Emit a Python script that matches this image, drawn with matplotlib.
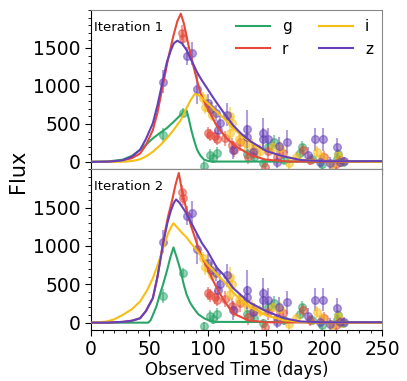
import numpy as np
import matplotlib
matplotlib.use('Agg')
import matplotlib.pyplot as plt
from matplotlib.ticker import MultipleLocator

# observed photometry (day, flux, error) per band
g_t = [62, 79, 97, 102, 105, 108, 134, 140, 148, 152, 157, 166, 179, 181, 190, 198, 211, 212, 216]
g_f = [350, 650, -50, 90, 50, 115, 110, 60, -10, 200, 260, 30, 115, 200, 40, -30, 40, 100, 0]
g_e = [90, 60, 60, 80, 70, 80, 70, 60, 60, 80, 90, 60, 70, 80, 60, 60, 60, 70, 50]

r_t = [78, 79, 100, 102, 106, 108, 115, 121, 123, 128, 135, 140, 149, 152, 160, 165, 182, 188, 200, 210, 214]
r_f = [1700, 1630, 380, 355, 335, 300, 310, 220, 160, 260, 70, 150, -60, 140, 60, 120, 160, 30, 60, -30, 20]
r_e = [100, 100, 80, 80, 90, 80, 100, 100, 90, 120, 100, 100, 80, 100, 90, 80, 80, 70, 80, 70, 60]

i_t = [96, 98, 101, 104, 119, 121, 119, 127, 132, 138, 145, 156, 162, 170, 176, 194, 198, 207, 212, 215]
i_f = [840, 725, 705, 620, 600, 510, 377, 300, 250, 200, 150, 200, 180, -20, 60, 136, 60, -30, 90, 0]
i_e = [80, 100, 90, 80, 120, 100, 90, 90, 100, 100, 80, 90, 90, 70, 70, 80, 70, 60, 70, 60]

z_t = [62, 82, 87, 91, 100, 103, 107, 109, 111, 117, 122, 134, 134, 139, 148, 148, 152, 160,
       161, 168, 186, 192, 197, 199, 205, 211, 214, 217]
z_f = [1055, 1395, 1430, 960, 775, 690, 645, 420, 510, 620, 160, 430, 330, 135, 380, 300, 300, 5,
       210, 265, 90, 300, 5, 300, -20, 195, 5, 10]
z_e = [150, 120, 150, 200, 120, 100, 100, 120, 100, 150, 120, 250, 150, 100, 200, 150, 150, 80,
       120, 150, 100, 150, 80, 150, 80, 120, 70, 60]

# model curves, iteration 1
m1_g_t = [0, 15, 27, 35, 42, 48, 53, 59, 65, 71, 77, 80, 82, 84, 86, 88.5, 91, 94, 97, 101, 105, 250]
m1_g_f = [3, 8, 30, 80, 160, 240, 310, 380, 445, 530, 620, 660, 675, 560, 420, 280, 160, 80, 30, 10, 5, 5]
m1_r_t = [0, 15, 27, 35, 42, 47, 53, 57, 62, 66, 70.5, 74, 77, 79.5, 82, 85, 88, 91, 94, 100, 108,
          117, 125, 137, 150, 170, 250]
m1_r_f = [0, 3, 17, 50, 110, 220, 420, 650, 1040, 1350, 1650, 1850, 1950, 1830, 1650, 1440, 1250, 1070,
          900, 710, 470, 300, 200, 90, 30, 5, 0]
m1_i_t = [0, 20, 30, 36, 42, 48, 53, 59, 65, 71, 77, 81, 85.5, 89, 91.5, 94, 100, 107, 114, 122, 130,
          137, 151, 166, 180, 200, 250]
m1_i_f = [0, 2, 5, 15, 35, 80, 135, 215, 310, 425, 550, 680, 815, 895, 885, 860, 775, 670, 575, 440,
          340, 260, 140, 70, 30, 10, 0]
m1_z_t = [0, 15, 27, 35, 42, 47, 53, 57, 62, 65, 68.5, 71, 74, 78, 82, 86, 91, 95, 100, 104, 108, 114,
          122, 129, 137, 151, 166, 180, 200, 250]
m1_z_f = [0, 4, 20, 70, 160, 300, 510, 750, 1100, 1310, 1470, 1560, 1595, 1560, 1470, 1340, 1180, 1075,
          960, 865, 775, 645, 480, 370, 270, 140, 70, 25, 10, 10]

# iteration 2
m2_g_t = [0, 46, 49, 51, 53, 56, 59, 62, 65, 68, 70.7, 73.5, 77, 79.5, 82, 85, 88, 92, 97, 102, 108, 250]
m2_g_f = [0, 0, 0, 30, 100, 210, 365, 510, 670, 850, 980, 850, 670, 500, 365, 260, 190, 110, 57, 25, 10, 5]
m2_r_t = [0, 15, 27, 35, 42, 47, 53, 57, 62, 66, 69.5, 72.5, 75.3, 78, 82, 86, 91, 95, 100, 104, 108,
          114, 122, 135, 150, 250]
m2_r_f = [0, 2, 10, 25, 57, 150, 320, 600, 1065, 1380, 1590, 1800, 1950, 1720, 1460, 1250, 1025, 860,
          715, 570, 450, 290, 120, 30, 5, 0]
m2_i_t = [0, 7, 13.5, 20, 27, 35, 42, 48, 53, 58, 62, 66, 68.5, 70.7, 74, 78, 82, 86, 91, 100, 108,
          114, 122, 130, 137, 151, 166, 185, 250]
m2_i_f = [0, 6, 15, 45, 100, 175, 275, 420, 580, 790, 980, 1160, 1240, 1295, 1240, 1170, 1110, 1030,
          935, 760, 630, 540, 390, 280, 200, 90, 30, 5, 0]
m2_z_t = [0, 15, 27, 35, 42, 47, 53, 57, 62, 65.5, 68.5, 71, 73, 76, 82, 86, 91, 95, 100, 108, 114, 122,
          130, 137, 151, 166, 180, 200, 250]
m2_z_f = [0, 2, 10, 25, 57, 150, 320, 600, 1045, 1300, 1460, 1560, 1605, 1560, 1420, 1300, 1155, 1040,
          930, 715, 620, 450, 340, 255, 145, 57, 15, 5, 5]

bands = ['g', 'r', 'i', 'z']
colors = {'g': '#2aa568', 'r': '#e5493a', 'i': '#f7be16', 'z': '#6640b8'}
obs = {'g': (g_t, g_f, g_e), 'r': (r_t, r_f, r_e), 'i': (i_t, i_f, i_e), 'z': (z_t, z_f, z_e)}
models = [
    {'g': (m1_g_t, m1_g_f), 'r': (m1_r_t, m1_r_f), 'i': (m1_i_t, m1_i_f), 'z': (m1_z_t, m1_z_f)},
    {'g': (m2_g_t, m2_g_f), 'r': (m2_r_t, m2_r_f), 'i': (m2_i_t, m2_i_f), 'z': (m2_z_t, m2_z_f)},
]

fig = plt.figure(figsize=(4.07, 3.81), dpi=100)
ax1 = fig.add_axes([0.224, 0.556, 0.715, 0.418])
ax2 = fig.add_axes([0.224, 0.134, 0.715, 0.422], sharex=ax1)

for k, ax in enumerate([ax1, ax2]):
    for b in bands:
        t, f, e = obs[b]
        ax.errorbar(t, f, yerr=e, fmt='o', color=colors[b], ms=5.5, alpha=0.5,
                    elinewidth=1.5, capsize=0, zorder=2)
    for b in bands:
        mt, mf = models[k][b]
        ax.plot(mt, mf, color=colors[b], lw=1.5, label=b, zorder=3)
    ax.set_xlim(0, 250)
    ax.set_ylim(-95, 2000)
    ax.set_yticks([0, 500, 1000, 1500])
    ax.yaxis.set_minor_locator(MultipleLocator(100))
    ax.xaxis.set_minor_locator(MultipleLocator(10))
    ax.tick_params(axis='both', which='major', labelsize=13.5, length=4)
    ax.tick_params(axis='both', which='minor', length=2)
    ax.spines['top'].set_color('#888888')
    ax.spines['right'].set_color('#888888')
    ax.text(0.01, 0.93, 'Iteration %d' % (k + 1), transform=ax.transAxes,
            fontsize=9.5, va='top', ha='left')

ax1.tick_params(axis='x', labelbottom=False)
ax1.legend(loc='upper right', ncol=2, frameon=False, fontsize=11,
           handlelength=2.2, columnspacing=1.8, borderaxespad=0.2)
ax2.set_xticks([0, 50, 100, 150, 200, 250])
ax2.set_xlabel('Observed Time (days)', fontsize=12, labelpad=1)
fig.text(0.045, 0.55, 'Flux', rotation=90, fontsize=15, va='center', ha='center')

plt.savefig('out.png', dpi=100)
